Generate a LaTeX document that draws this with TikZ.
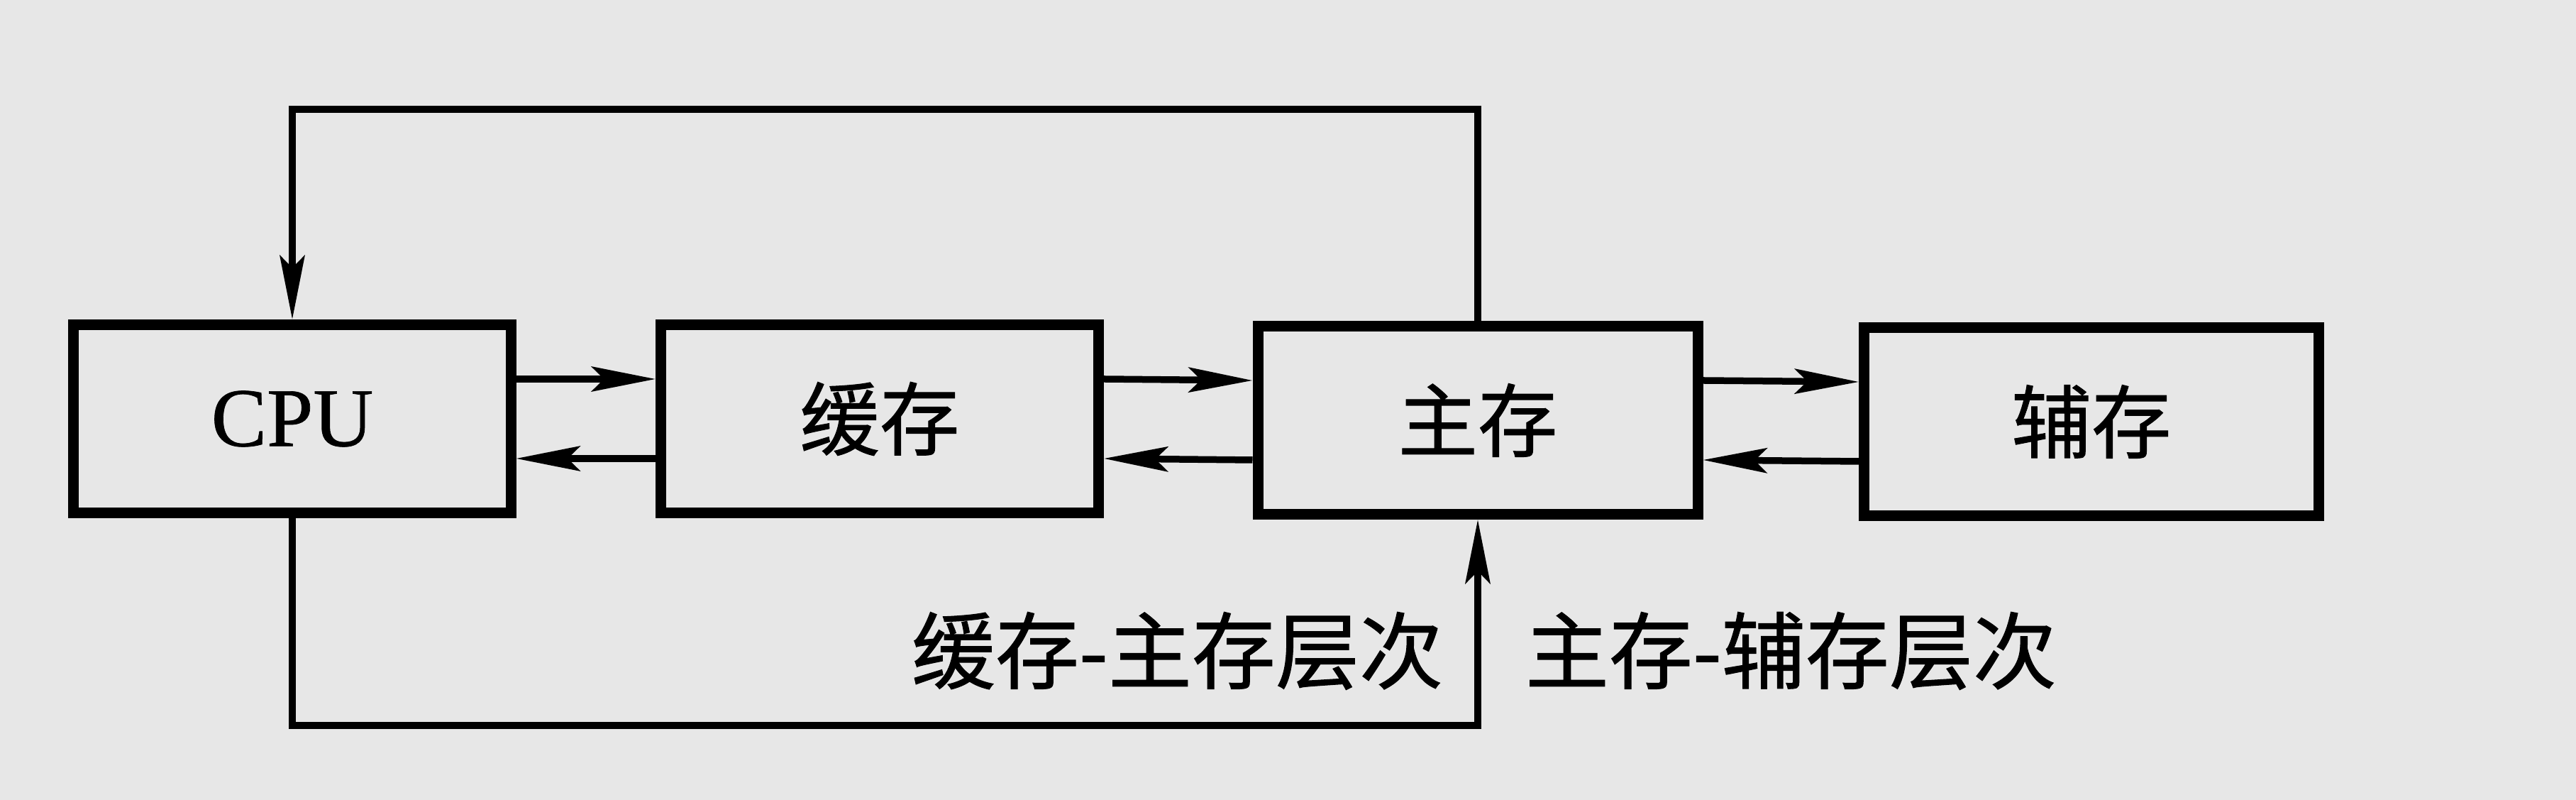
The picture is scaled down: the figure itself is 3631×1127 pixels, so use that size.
\documentclass[tikz,border=0pt]{standalone}
\usepackage{fontspec}
\setmainfont{Liberation Serif}[FakeBold=0.6]
\newfontfamily\cjk{Noto Sans CJK SC}[FakeBold=0.9]
\usetikzlibrary{arrows.meta}
\definecolor{paper}{RGB}{231,231,231}
\begin{document}
\begin{tikzpicture}[x=0.2pt,y=-0.2pt,
  box/.style={draw=black,line width=3pt,fill=paper,minimum height=53pt,inner sep=0pt},
  conn/.style={line width=1.9pt,line join=miter},
  arr/.style={conn,-{Stealth[length=18pt,width=7pt,inset=3.5pt]}},
  lab/.style={font=\cjk\fontsize{23.6}{26}\selectfont,inner sep=0pt}]
\fill[paper] (0,0) rectangle (3631,1127);
\useasboundingbox (0,0) rectangle (3631,1127);
\node[box,minimum width=123.2pt,font=\fontsize{23.5}{26}\selectfont] (cpu) at (412,590) {CPU};
\node[box,minimum width=123.4pt,font=\cjk\fontsize{22.5}{26}\selectfont] (cache) at (1240,590) {缓存};
\node[box,minimum width=124pt,font=\cjk\fontsize{22.5}{26}\selectfont] (main) at (2083,592) {主存};
\node[box,minimum width=128.2pt,font=\cjk\fontsize{22.5}{26}\selectfont] (aux) at (2948,594) {辅存};
\draw[arr] ([yshift=11.2pt]cpu.east) -- ([yshift=11.2pt]cache.west);
\draw[arr] ([yshift=-11.2pt]cache.west) -- ([yshift=-11.2pt]cpu.east);
\draw[arr] ([yshift=11.2pt]cache.east) -- ([yshift=11.2pt]main.west);
\draw[arr] ([yshift=-11.2pt]main.west) -- ([yshift=-11.2pt]cache.east);
\draw[arr] ([yshift=11.2pt]main.east) -- ([yshift=11.2pt]aux.west);
\draw[arr] ([yshift=-11.2pt]aux.west) -- ([yshift=-11.2pt]main.east);
\coordinate (topy) at (0,154);
\coordinate (boty) at (0,1022);
\draw[arr] (main.north) -- (main.north |- topy) -- (cpu.north |- topy) -- (cpu.north);
\draw[arr] (cpu.south) -- (cpu.south |- boty) -- (main.south |- boty) -- (main.south);
\node[lab,anchor=east] (l1) at (2035,917) {缓存-主存层次};
\node[lab,anchor=west] (l2) at (2149,917) {主存-辅存层次};
\end{tikzpicture}
\end{document}
